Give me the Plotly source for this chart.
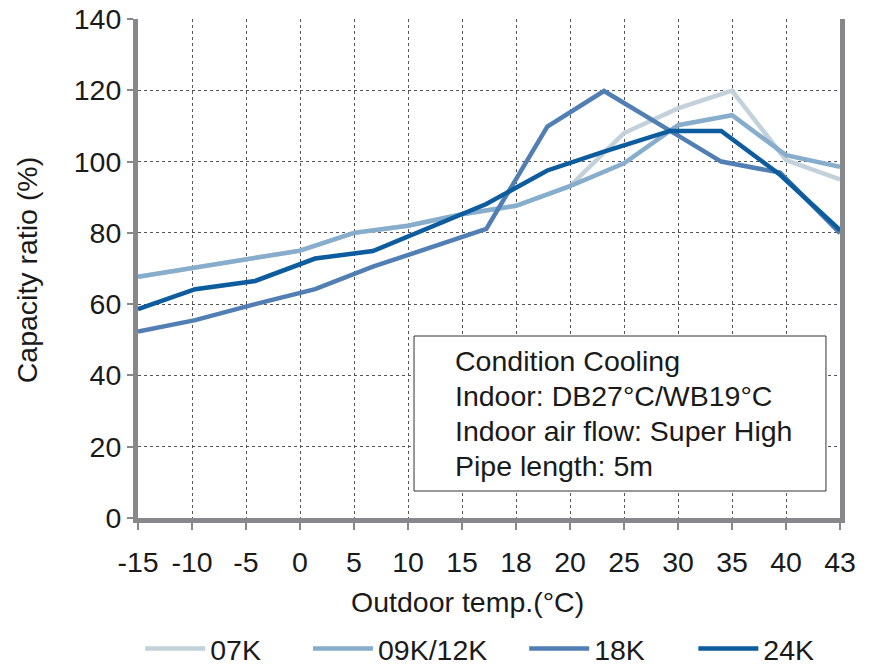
import plotly.graph_objects as go

# ---- data ----
x_tick_labels = ["-15", "-10", "-5", "0", "5", "10", "15", "18", "20", "25", "30", "35", "40", "43"]
x_tick_pos = [0, 1, 2, 3, 4, 5, 6, 7, 8, 9, 10, 11, 12, 13]

x_light = [0, 1, 2, 3, 4, 5, 6, 7, 8, 9, 10, 11, 12, 13]
cap_07k = [67.7, 70.2, 72.4, 75.0, 80.0, 82.0, 85.2, 87.6, 93.1, 108.0, 114.9, 119.9, 100.4, 95.0]
cap_09k = [67.7, 70.2, 72.4, 75.0, 80.0, 82.0, 85.2, 87.6, 93.1, 99.5, 110.2, 113.0, 101.8, 98.5]

x_dark = [0, 1.06, 2.17, 3.28, 4.35, 6.45, 7.58, 8.63, 9.85, 10.8, 11.89, 13]
cap_18k = [52.3, 55.5, 60.0, 64.2, 70.5, 81.1, 109.8, 119.8, 108.7, 100.0, 96.9, 79.9]
cap_24k = [58.6, 64.2, 66.5, 72.8, 74.9, 88.1, 97.5, 102.8, 108.6, 108.6, 96.3, 80.8]

y_ticks = [0, 20, 40, 60, 80, 100, 120, 140]

series_names = ["07K", "09K/12K", "18K", "24K"]
series_x = [x_light, x_light, x_dark, x_dark]
series_y = [cap_07k, cap_09k, cap_18k, cap_24k]
series_colors = ["#c3d2da", "#86adcb", "#517fb4", "#0d5c9e"]

condition_lines = ["Condition Cooling", "Indoor: DB27°C/WB19°C",
                   "Indoor air flow: Super High", "Pipe length: 5m"]

FONT = "Liberation Sans, Arial, sans-serif"
FS = 28.5
TXT = "#1a1a1a"
AXC = "#88888c"
GRID = "#555555"

legend_ids = ["legend", "legend2", "legend3", "legend4"]
legend_x = [0.0031, 0.2421, 0.5501, 0.7911]

fig = go.Figure()
for name, xs, ys, col, lg in zip(series_names, series_x, series_y, series_colors, legend_ids):
    fig.add_trace(go.Scatter(x=xs, y=ys, name=name, mode="lines", legend=lg,
                             line=dict(color=col, width=4.5)))

legend_layout = {}
for lg, lx in zip(legend_ids, legend_x):
    legend_layout[lg] = dict(orientation="h", x=lx, xanchor="left", y=-0.2625, yanchor="middle",
                             font=dict(size=FS, color=TXT, family=FONT), itemwidth=60,
                             bgcolor="rgba(0,0,0,0)", borderwidth=0)

# the page body adds an 8px offset; margins compensate so the plot area sits
# at x 138-840, y 19-518 on the page
fig.update_layout(
    width=874, height=666,
    margin=dict(l=130, r=42, t=11, b=156, autoexpand=False),
    plot_bgcolor="white", paper_bgcolor="white",
    font=dict(family=FONT, size=FS, color=TXT),
    showlegend=True,
    xaxis=dict(range=[0, 13], tickmode="array", tickvals=x_tick_pos, ticktext=x_tick_labels,
               showline=True, linewidth=5, linecolor=AXC,
               ticks="outside", ticklen=7, tickwidth=2, tickcolor=AXC,
               showgrid=True, gridcolor=GRID, gridwidth=1, griddash="3px,3px",
               zeroline=False, ticklabelstandoff=8, ticklabeloverflow="allow",
               tickfont=dict(size=FS, color=TXT)),
    yaxis=dict(range=[0, 140], tickmode="array", tickvals=y_ticks,
               showline=True, linewidth=5, linecolor=AXC, mirror=True,
               ticks="outside", ticklen=6, tickwidth=2, tickcolor=AXC,
               showgrid=True, gridcolor=GRID, gridwidth=1, griddash="3px,3px",
               zeroline=False, ticklabeloverflow="allow",
               tickfont=dict(size=FS, color=TXT)),
    **legend_layout,
)

# hide the dashed grid line along the top edge (reference has none there)
fig.add_shape(type="line", xref="paper", yref="paper", x0=0, x1=1, y0=1, y1=1,
              line=dict(color="white", width=3), layer="between")

# x axis title
fig.add_annotation(text="Outdoor temp.(°C)", xref="paper", yref="paper",
                   x=0.470, y=-0.168, xanchor="center", yanchor="middle",
                   showarrow=False, font=dict(size=FS, color=TXT))
# y axis title
fig.add_annotation(text="Capacity ratio (%)", xref="paper", yref="paper",
                   x=-0.157, y=0.496, xanchor="center", yanchor="middle", textangle=-90,
                   showarrow=False, font=dict(size=FS, color=TXT))

# condition box
fig.add_shape(type="rect", xref="paper", yref="paper",
              x0=0.3932, x1=0.980, y0=0.0541, y1=0.3647,
              line=dict(color="#333333", width=1), fillcolor="white", layer="above")
line_y = [0.3146, 0.2445, 0.1743, 0.1042]
for txt, ly in zip(condition_lines, line_y):
    fig.add_annotation(text=txt, xref="paper", yref="paper", x=0.4487, y=ly,
                       xanchor="left", yanchor="middle", align="left", showarrow=False,
                       font=dict(size=FS, color=TXT))

fig.write_html("out.html")
